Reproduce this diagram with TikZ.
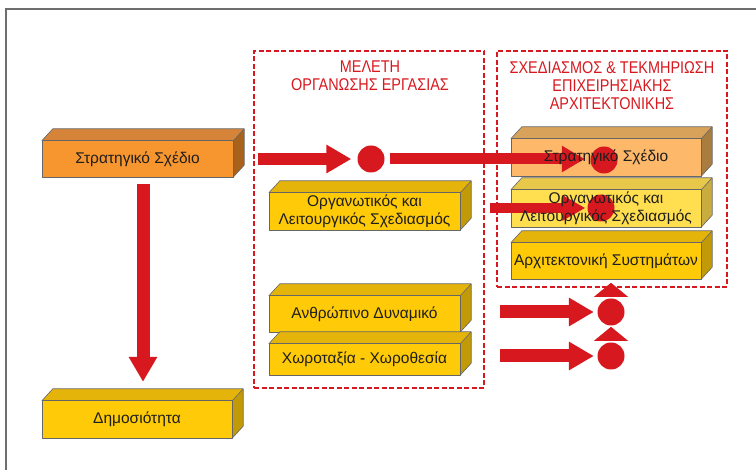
\documentclass[tikz,border=0pt]{standalone}
\usepackage{fontspec}
\setmainfont{Liberation Sans}
\newfontfamily\titlefont[FakeStretch=0.85]{Liberation Sans}
\usetikzlibrary{arrows.meta}
\definecolor{myred}{HTML}{D7191F}
\definecolor{framegray}{HTML}{6E6E6E}
\definecolor{txtdark}{HTML}{1E1E1E}
\definecolor{orFront}{HTML}{F7962F}\definecolor{orTop}{HTML}{D5843A}\definecolor{orSide}{HTML}{A8621C}
\definecolor{goFront}{HTML}{FFCA08}\definecolor{goTop}{HTML}{E5B40B}\definecolor{goSide}{HTML}{C29A07}
\definecolor{loFront}{HTML}{FDB86A}\definecolor{loTop}{HTML}{D9A25A}\definecolor{loSide}{HTML}{A97C3F}
\definecolor{lyFront}{HTML}{FFDF4F}\definecolor{lyTop}{HTML}{E8C84A}\definecolor{lySide}{HTML}{C8AC3F}
\pgfdeclarelayer{bg}\pgfdeclarelayer{mid}\pgfsetlayers{bg,mid,main}
\newcommand\drawblock[4]{%
  \fill[#2] (#1.south west) rectangle (#1.north east);
  \fill[#3] (#1.north west) -- ([shift={(11,-12)}]#1.north west) -- ([shift={(11,-12)}]#1.north east) -- (#1.north east) -- cycle;
  \fill[#4] (#1.north east) -- ([shift={(11,-12)}]#1.north east) -- ([shift={(11,-12)}]#1.south east) -- (#1.south east) -- cycle;
  \draw[blockline] (#1.south west) rectangle (#1.north east);
  \draw[blockline] (#1.north west) -- ([shift={(11,-12)}]#1.north west) -- ([shift={(11,-12)}]#1.north east) -- ([shift={(11,-12)}]#1.south east) -- (#1.south east);
  \draw[blockline] (#1.north east) -- ([shift={(11,-12)}]#1.north east);
}
\begin{document}
\begin{tikzpicture}[x=1pt,y=-1pt,
  blockline/.style={draw=black!60,line width=0.6pt,line join=round},
  block/.style={minimum width=191pt,minimum height=36pt,inner sep=0pt,align=center,text=txtdark,font=\fontsize{15.5}{17.5}\selectfont},
  dashbox/.style={draw=myred,line width=1.6pt,dash pattern=on 5pt off 2.5pt,inner sep=0pt},
  grouptitle/.style={text=myred,align=center,font=\titlefont\fontsize{17}{18}\selectfont,inner sep=0pt,anchor=north},
  dot/.style={circle,fill=myred,minimum size=27pt,inner sep=0pt},
  blockarrow/.style={draw=myred,line width=#1},
  blockarrow/.default=12pt]
\useasboundingbox (0,0) rectangle (756,470);
% frame
\draw[framegray,line width=2.5pt] (6,480) -- (6,9) -- (770,9);
% groups
\node[dashbox,minimum width=230pt,minimum height=337pt] (g1) at (369,219.5) {};
\node[dashbox,minimum width=230pt,minimum height=236pt] (g2) at (612,169) {};
\node[grouptitle] (t1) at (370,61) {ΜΕΛΕΤΗ\\ΟΡΓΑΝΩΣΗΣ ΕΡΓΑΣΙΑΣ};
\node[grouptitle] (t2) at (612,61) {ΣΧΕΔΙΑΣΜΟΣ \& ΤΕΚΜΗΡΙΩΣΗ\\ΕΠΙΧΕΙΡΗΣΙΑΚΗΣ\\ΑΡΧΙΤΕΚΤΟΝΙΚΗΣ};
% blocks
\node[block] (s1) at (137.5,159) {Στρατηγικό Σχέδιο};
\node[block,minimum width=190pt,minimum height=37pt] (d1) at (137,419.5) {Δημοσιότητα};
\node[block,minimum height=37pt] (o1) at (364.5,211.5) {Οργανωτικός και\\Λειτουργικός Σχεδιασμός};
\node[block] (a1) at (364.5,314) {Ανθρώπινο Δυναμικό};
\node[block,minimum height=31pt] (x1) at (364.5,359.5) {Χωροταξία - Χωροθεσία};
\node[block,minimum width=190pt,minimum height=37pt] (rs) at (606,157.5) {Στρατηγικό Σχέδιο};
\node[block,minimum width=190pt,minimum height=37pt] (ro) at (606,208.5) {Οργανωτικός και\\Λειτουργικός Σχεδιασμός};
\node[block,minimum width=190pt] (ra) at (606,261) {Αρχιτεκτονική Συστημάτων};
\begin{pgfonlayer}{bg}
  \drawblock{s1}{orFront}{orTop}{orSide}
  \drawblock{d1}{goFront}{goTop}{goSide}
  \drawblock{o1}{goFront}{goTop}{goSide}
  \drawblock{a1}{goFront}{goTop}{goSide}
  \drawblock{x1}{goFront}{goTop}{goSide}
  \drawblock{rs}{loFront}{loTop}{loSide}
  \drawblock{ro}{lyFront}{lyTop}{lySide}
  \drawblock{ra}{goFront}{goTop}{goSide}
\end{pgfonlayer}
% red connectors
\begin{pgfonlayer}{mid}
  \node[dot] (c1) at (371,159) {};
  \node[dot] (c2) at (604,160) {};
  \node[dot] (c3) at (601,208) {};
  \node[dot] (c4) at (611,312) {};
  \node[dot] (c5) at (611,356) {};
  \coordinate (h1) at (258,159);
  \coordinate (h3) at (490,208);
  \coordinate (h4) at (500,312);
  \coordinate (h5) at (500,356);
  \draw[blockarrow=13pt,-{Triangle[length=25pt,width=27pt]},shorten <=7pt,shorten >=19pt]
     ([xshift=5.5pt]s1.south) -- ([xshift=6pt]d1.north);
  \draw[blockarrow=12pt,-{Triangle[length=25pt,width=27pt]},shorten >=6pt] (h1) -- (c1.west);
  \draw[blockarrow=11pt,-{Triangle[length=23pt,width=25pt]},shorten <=5pt,shorten >=5.5pt] (c1.east) -- (c2.west |- c1.east);
  \draw[blockarrow=10pt,-{Triangle[length=23pt,width=24pt]},shorten >=2pt] (h3) -- (c3.west);
  \draw[blockarrow=13pt,-{Triangle[length=25pt,width=27pt]},shorten >=3.5pt] (h4) -- (c4.west);
  \draw[blockarrow=13pt,-{Triangle[length=25pt,width=27pt]},shorten >=3.5pt] (h5) -- (c5.west);
  \fill[myred] ([shift={(-17,-1.5)}]c4.north) -- ([shift={(17,-1.5)}]c4.north) -- ([shift={(0,-15.5)}]c4.north) -- cycle;
  \fill[myred] ([shift={(-17,-1.5)}]c5.north) -- ([shift={(17,-1.5)}]c5.north) -- ([shift={(0,-15.5)}]c5.north) -- cycle;
\end{pgfonlayer}
\end{tikzpicture}
\end{document}
